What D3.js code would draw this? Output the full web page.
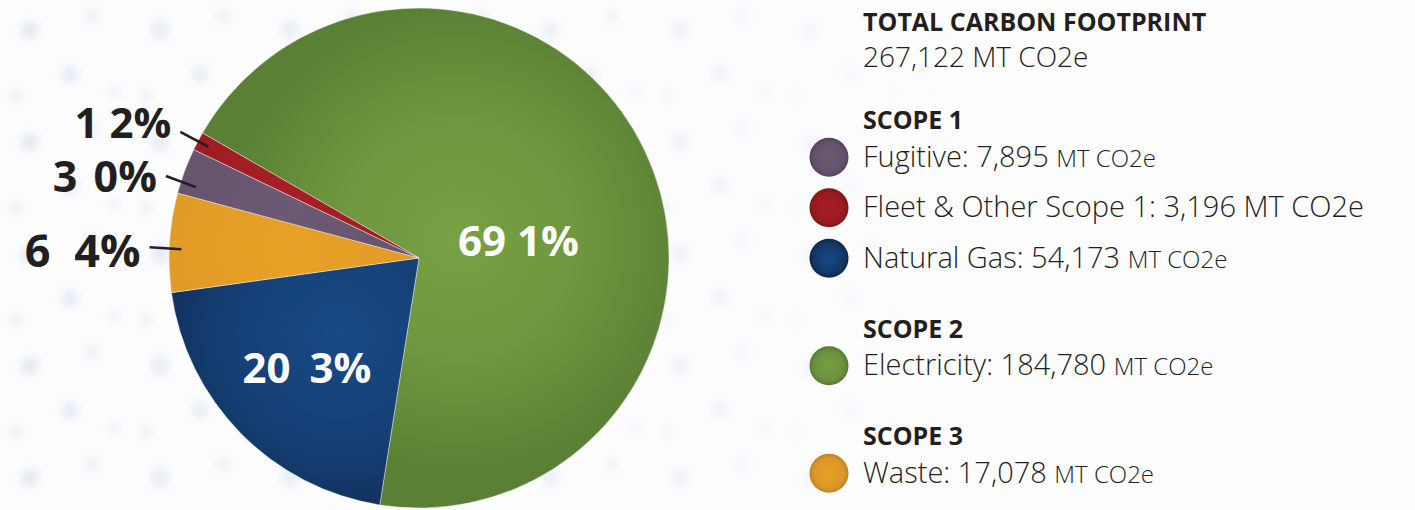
<!DOCTYPE html>
<html>
<head>
<meta charset="utf-8">
<script src="https://cdn.jsdelivr.net/npm/d3@7/dist/d3.min.js"></script>
<style>
  body { margin: 0; background: #fdfdfe; }
  svg { display: block; }
</style>
</head>
<body>
<div class="chart-area"></div>
<script>
// ---- data ----
var categories = ["Electricity", "Natural Gas", "Waste", "Fugitive", "Fleet & Other Scope 1"];
var values     = [184780, 54173, 17078, 7895, 3196];
var pctLabels  = ["69 1%", "20 3%", "6 4%", "3 0%", "1 2%"];

var titleText  = "TOTAL CARBON FOOTPRINT";
var totalText  = "267,122 MT CO2e";
var unitText   = "MT CO2e";
var scopeNames   = ["SCOPE 1", "SCOPE 2", "SCOPE 3"];
var scopeMembers = [["Fugitive", "Fleet & Other Scope 1", "Natural Gas"], ["Electricity"], ["Waste"]];

// ---- styles ----
var palette = {
  "Electricity":           ["#77a143", "#5a8035"],
  "Natural Gas":           ["#184a86", "#0d2346"],
  "Waste":                 ["#e9a226", "#cf892a"],
  "Fugitive":              ["#6c5974", "#5b4963"],
  "Fleet & Other Scope 1": ["#a61f24", "#8a171c"]
};
var smallUnit = {"Fugitive": true, "Natural Gas": true, "Electricity": true, "Waste": true};
var ink = "#231f20";

var W = 1415, H = 510;
var cx = 419, cy = 258, R = 250;

var svg = d3.select(".chart-area").append("svg")
    .attr("width", W)
    .attr("height", H);

var defs = svg.append("defs");

// faint blurred dots in the background
defs.append("filter").attr("id", "soft")
    .attr("x", "-100%").attr("y", "-100%").attr("width", "300%").attr("height", "300%")
  .append("feGaussianBlur").attr("stdDeviation", 5);

var pat = defs.append("pattern").attr("id", "dots")
    .attr("patternUnits", "userSpaceOnUse")
    .attr("width", 130).attr("height", 112);
var dg = pat.append("g").attr("filter", "url(#soft)").attr("fill", "#c8d6ea");
dg.append("circle").attr("cx", 30).attr("cy", 30).attr("r", 9);
dg.append("circle").attr("cx", 92).attr("cy", 16).attr("r", 6);
dg.append("circle").attr("cx", 70).attr("cy", 74).attr("r", 8);
dg.append("circle").attr("cx", 114).attr("cy", 92).attr("r", 5);
dg.append("circle").attr("cx", 16).attr("cy", 96).attr("r", 5);

var fade = defs.append("linearGradient").attr("id", "fade")
    .attr("x1", 0).attr("x2", 1).attr("y1", 0).attr("y2", 0);
fade.append("stop").attr("offset", "0").attr("stop-color", "#fff").attr("stop-opacity", 0.55);
fade.append("stop").attr("offset", "0.5").attr("stop-color", "#fff").attr("stop-opacity", 0.3);
fade.append("stop").attr("offset", "0.7").attr("stop-color", "#fff").attr("stop-opacity", 0);
defs.append("mask").attr("id", "fadeMask")
  .append("rect").attr("width", W).attr("height", H).attr("fill", "url(#fade)");

svg.append("rect").attr("width", W).attr("height", H).attr("fill", "#fdfdfe");
svg.append("rect").attr("width", W).attr("height", H)
    .attr("fill", "url(#dots)").attr("mask", "url(#fadeMask)");

// ---- pie ----
var rows = categories.map(function(c, i) {
  return {name: c, value: values[i], label: pctLabels[i]};
});

var start = -Math.PI / 3;
var pie = d3.pie().sort(null).value(function(d) { return d.value; })
    .startAngle(start).endAngle(start + 2 * Math.PI);
var arcs = pie(rows);
var total = d3.sum(values);

var arc = d3.arc().innerRadius(0).outerRadius(R);
var mid = function(d) { return (d.startAngle + d.endAngle) / 2; };
var polar = function(r, a) { return [r * Math.sin(a), -r * Math.cos(a)]; };

var g = svg.append("g").attr("transform", "translate(" + cx + "," + cy + ")");

// one radial gradient per slice, light in the middle of the slice
arcs.forEach(function(d, i) {
  var share = d.value / total;
  var p = polar(R * 0.55 * (1 - share), mid(d));
  var c = palette[d.data.name];
  var rg = defs.append("radialGradient").attr("id", "sl" + i)
      .attr("gradientUnits", "userSpaceOnUse")
      .attr("cx", p[0]).attr("cy", p[1]).attr("r", R * 0.95)
      .attr("fx", p[0]).attr("fy", p[1]);
  rg.append("stop").attr("offset", "0").attr("stop-color", c[0]);
  rg.append("stop").attr("offset", "0.5").attr("stop-color", d3.interpolateRgb(c[0], c[1])(0.3));
  rg.append("stop").attr("offset", "1").attr("stop-color", c[1]);
});

g.selectAll("path.slice")
  .data(arcs)
  .enter().append("path")
    .attr("class", "slice")
    .attr("d", arc)
    .attr("fill", function(d, i) { return "url(#sl" + i + ")"; })
    .attr("stroke", "#ffffff")
    .attr("stroke-opacity", 0.5)
    .attr("stroke-width", 0.8);

// labels inside the two big slices
var innerAt = {"Electricity": {r: 101, a: 80, ws: 0}, "Natural Gas": {r: 157, ws: 8}};
var big = arcs.filter(function(d) { return d.value / total >= 0.1; });
g.selectAll("text.inner")
  .data(big)
  .enter().append("text")
    .attr("class", "inner")
    .attr("transform", function(d) {
      var o = innerAt[d.data.name] || {r: R * 0.6};
      var a = o.a != null ? o.a * Math.PI / 180 : mid(d);
      return "translate(" + polar(o.r, a) + ")";
    })
    .attr("text-anchor", "middle")
    .attr("dy", "0.36em")
    .attr("fill", "#ffffff")
    .style("font-family", "'Open Sans', 'Noto Sans', sans-serif")
    .style("font-weight", 700)
    .style("font-size", "42px")
    .style("word-spacing", function(d) { return (innerAt[d.data.name] || {}).ws + "px"; })
    .text(function(d) { return d.data.label; });

// labels with leader lines for the small slices
// (hand nudges: line shift and text shift from the line start, in px)
var outerAt = {
  "Fleet & Other Scope 1": {line: 0,  text: -9, size: 42, ws: 0},
  "Fugitive":              {line: 12, text: 0,  size: 43, ws: 5},
  "Waste":                 {line: 6,  text: 3,  size: 45, ws: 12}
};
var small = arcs.filter(function(d) { return d.value / total < 0.1; })
  .map(function(d) {
    var a = mid(d), n = outerAt[d.data.name];
    var p0 = polar(270, a), p1 = polar(238, a);
    return {d: d, n: n, p0: [p0[0], p0[1] + n.line], p1: [p1[0], p1[1] + n.line]};
  });

var lab = g.selectAll("g.outer")
  .data(small)
  .enter().append("g")
    .attr("class", "outer");

lab.append("line")
    .attr("x1", function(o) { return o.p0[0]; })
    .attr("y1", function(o) { return o.p0[1]; })
    .attr("x2", function(o) { return o.p1[0]; })
    .attr("y2", function(o) { return o.p1[1]; })
    .attr("stroke", ink)
    .attr("stroke-width", 2.6);

lab.append("text")
    .attr("x", function(o) { return o.p0[0] - 9; })
    .attr("y", function(o) { return o.p0[1] + o.n.text; })
    .attr("dy", "0.36em")
    .attr("text-anchor", "end")
    .attr("fill", ink)
    .style("font-family", "'Open Sans', 'Noto Sans', sans-serif")
    .style("font-weight", 700)
    .style("font-size", function(o) { return o.n.size + "px"; })
    .style("word-spacing", function(o) { return o.n.ws + "px"; })
    .text(function(o) { return o.d.data.label; });

// ---- legend ----
var lx = 863, dotX = 829;
var valueOf = {};
rows.forEach(function(r) { valueOf[r.name] = r.value; });

var leg = svg.append("g")
    .style("font-family", "'Open Sans', 'Noto Sans', sans-serif")
    .attr("fill", ink);

leg.append("text")
    .attr("x", lx).attr("y", 31)
    .style("font-weight", 700).style("font-size", "25px")
    .text(titleText);

leg.append("text")
    .attr("x", lx).attr("y", 67)
    .style("font-weight", 300).style("font-size", "28px")
    .text(totalText);

// legend dot gradients
categories.forEach(function(c, i) {
  var rg = defs.append("radialGradient").attr("id", "dot" + i)
      .attr("cx", "0.5").attr("cy", "0.5").attr("r", "0.55");
  rg.append("stop").attr("offset", "0").attr("stop-color", palette[c][0]);
  rg.append("stop").attr("offset", "0.7").attr("stop-color", d3.interpolateRgb(palette[c][0], palette[c][1])(0.5));
  rg.append("stop").attr("offset", "1").attr("stop-color", d3.color(palette[c][1]).darker(0.4));
});

var fmt = d3.format(",");
var y = 129.3;
scopeNames.forEach(function(s, si) {
  leg.append("text")
      .attr("x", lx).attr("y", y)
      .style("font-weight", 700).style("font-size", "25px")
      .text(s);
  y += 37.5;
  scopeMembers[si].forEach(function(name) {
    var ci = categories.indexOf(name);
    leg.append("circle")
        .attr("cx", dotX).attr("cy", y - 9.5).attr("r", 19.5)
        .attr("fill", "url(#dot" + ci + ")");
    var t = leg.append("text")
        .attr("x", lx).attr("y", y)
        .style("font-weight", 300).style("font-size", "29px");
    t.append("tspan").text(name + ": " + fmt(valueOf[name]) + " ");
    t.append("tspan")
        .style("font-size", smallUnit[name] ? "24px" : "29px")
        .text(unitText);
    y += 50.5;
  });
  y += 70 - 50.5;
});
</script>
</body>
</html>
